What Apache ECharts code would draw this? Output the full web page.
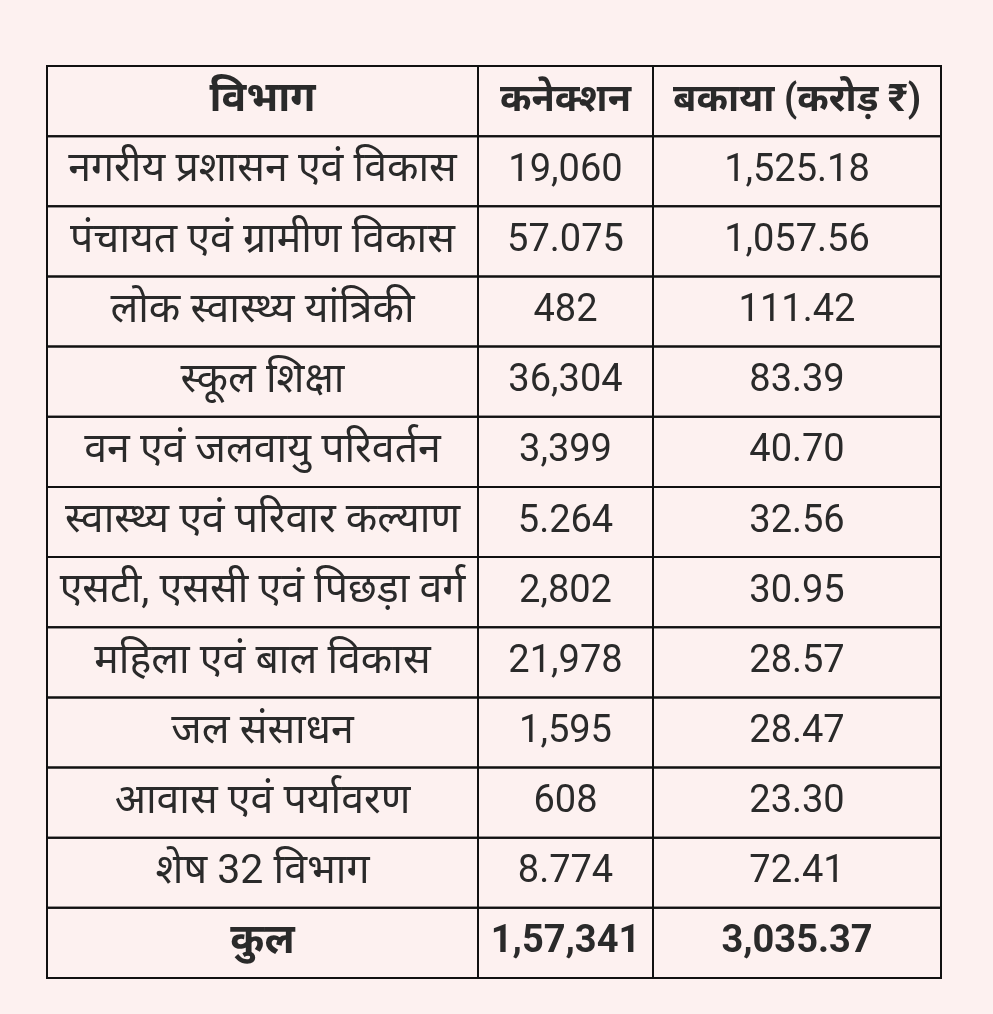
<!DOCTYPE html>
<html lang="hi">
<head>
<meta charset="UTF-8">
<title>विभागवार कनेक्शन और बकाया</title>
<style>
  * { margin: 0; padding: 0; box-sizing: border-box; }
  body { background-color: #fdf1f0; }
  #chart { width: 993px; height: 1014px; }
</style>
</head>
<body>
<div id="chart"></div>
<script src="https://cdn.jsdelivr.net/npm/echarts@6/dist/echarts.min.js"></script>
<script>
  const headers = ['विभाग', 'कनेक्शन', 'बकाया (करोड़ ₹)']
  const departments = [
    'नगरीय प्रशासन एवं विकास', 'पंचायत एवं ग्रामीण विकास', 'लोक स्वास्थ्य यांत्रिकी',
    'स्कूल शिक्षा', 'वन एवं जलवायु परिवर्तन', 'स्वास्थ्य एवं परिवार कल्याण',
    'एसटी, एससी एवं पिछड़ा वर्ग', 'महिला एवं बाल विकास', 'जल संसाधन',
    'आवास एवं पर्यावरण', 'शेष 32 विभाग', 'कुल'
  ]
  const connections = ['19,060', '57.075', '482', '36,304', '3,399', '5.264', '2,802',
    '21,978', '1,595', '608', '8.774', '1,57,341']
  const dues = ['1,525.18', '1,057.56', '111.42', '83.39', '40.70', '32.56', '30.95',
    '28.57', '28.47', '23.30', '72.41', '3,035.37']

  // column widths (layout only)
  const colEdges = [0, 431, 606, 894]

  const rows = [headers].concat(departments.map((d, i) => [d, connections[i], dues[i]]))
  const rowNames = rows.map((r, i) => 'r' + i)
  const cells = []
  rows.forEach((r, ri) => r.forEach((t, ci) => {
    cells.push([colEdges[ci], colEdges[ci + 1], rowNames[ri], t, ri === 0 || ri === rows.length - 1 ? 1 : 0, ci])
  }))

  const chart = echarts.init(document.getElementById('chart'))
  chart.setOption({
    backgroundColor: '#fdf1f0',
    animation: false,
    grid: { left: 47, top: 66, width: 894, height: 912 },
    xAxis: { type: 'value', min: 0, max: 894, show: false },
    yAxis: { type: 'category', data: rowNames, inverse: true, show: false },
    series: [{
      type: 'custom',
      data: cells,
      encode: { x: [0, 1], y: 2 },
      renderItem: function (params, api) {
        const p0 = api.coord([api.value(0), api.value(2)])
        const p1 = api.coord([api.value(1), api.value(2)])
        const h = api.size([0, 1])[1]
        const bold = api.value(4) === 1
        const firstCol = api.value(5) === 0
        return {
          type: 'group',
          children: [{
            type: 'rect',
            shape: { x: p0[0], y: p0[1] - h / 2, width: p1[0] - p0[0], height: h },
            style: { fill: 'transparent', stroke: '#111', lineWidth: 2 }
          }, {
            type: 'text',
            style: {
              x: (p0[0] + p1[0]) / 2, y: p0[1],
              text: api.value(3),
              align: 'center', verticalAlign: 'middle',
              fontFamily: 'Roboto, Noto Sans, sans-serif',
              fontSize: firstCol ? 41 : 38, fontWeight: bold ? 'bold' : 'normal',
              fill: '#2a2a2a'
            }
          }]
        }
      }
    }]
  })
</script>
</body>
</html>
